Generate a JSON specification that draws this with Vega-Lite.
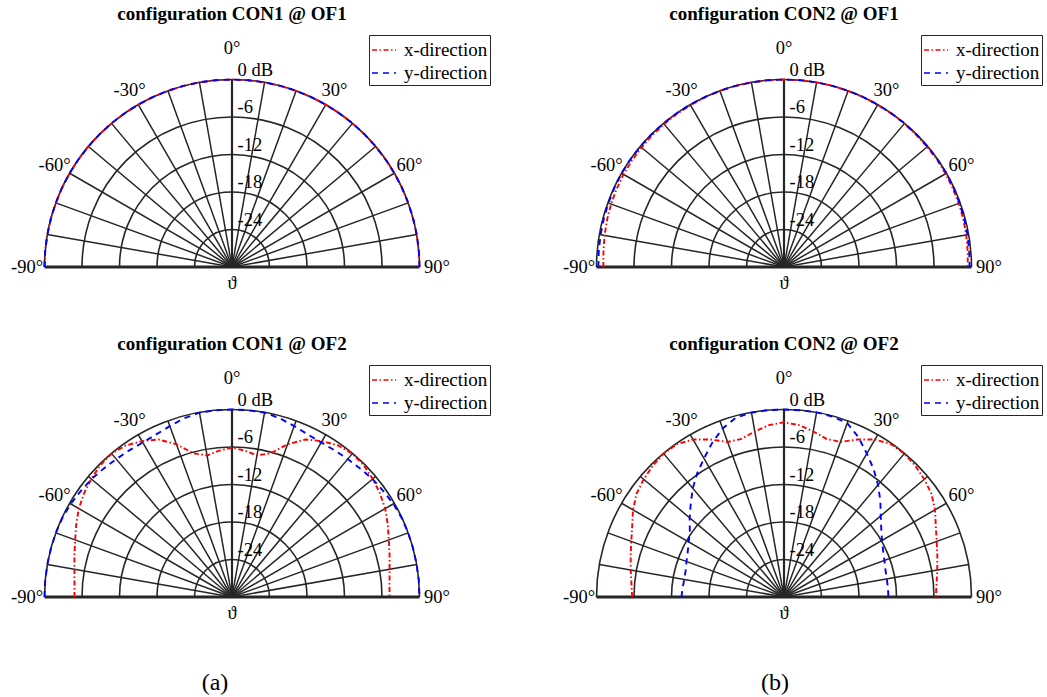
{
"$schema":"https://vega.github.io/schema/vega-lite/v6.json",
"padding":{"left":0,"top":5,"right":0,"bottom":0},
"background":"white",
"config":{"view":{"stroke":null},"font":"Liberation Serif",
 "text":{"font":"Liberation Serif","fontSize":18.5,"color":"black"},
 "title":{"font":"Liberation Serif","fontSize":19,"fontWeight":"bold","color":"black"},
 "legend":{"orient":"none","legendX":369,"legendY":5,"labelFont":"Liberation Serif","labelFontSize":19,"labelColor":"black","symbolType":"stroke","symbolSize":576,"symbolStrokeWidth":1.6,"strokeColor":"#262626","fillColor":"white","padding":2,"rowPadding":-1,"labelOffset":7}},
"datasets":{
"rings":[{"db":0,"lab":"0 dB"},{"db":-6,"lab":"-6"},{"db":-12,"lab":"-12"},{"db":-18,"lab":"-18"},{"db":-24,"lab":"-24"}],
"spokes":[{"a":-80},{"a":-70},{"a":-60},{"a":-50},{"a":-40},{"a":-30},{"a":-20},{"a":-10},{"a":0},{"a":10},{"a":20},{"a":30},{"a":40},{"a":50},{"a":60},{"a":70},{"a":80}],
"alabels":[{"a":-90,"lab":"-90°"},{"a":-60,"lab":"-60°"},{"a":-30,"lab":"-30°"},{"a":0,"lab":"0°"},{"a":30,"lab":"30°"},{"a":60,"lab":"60°"},{"a":90,"lab":"90°"}],
"curves":[
{"p":1,"a":-90,"x-direction":0,"y-direction":0},{"p":1,"a":-85,"x-direction":0,"y-direction":0},{"p":1,"a":-80,"x-direction":0,"y-direction":0},{"p":1,"a":-75,"x-direction":0,"y-direction":0},{"p":1,"a":-70,"x-direction":0,"y-direction":0},{"p":1,"a":-65,"x-direction":0,"y-direction":0},{"p":1,"a":-60,"x-direction":0,"y-direction":0},{"p":1,"a":-55,"x-direction":0,"y-direction":0},{"p":1,"a":-50,"x-direction":0,"y-direction":0},{"p":1,"a":-45,"x-direction":0,"y-direction":0},{"p":1,"a":-40,"x-direction":0,"y-direction":0},{"p":1,"a":-35,"x-direction":0,"y-direction":0},{"p":1,"a":-30,"x-direction":0,"y-direction":0},{"p":1,"a":-25,"x-direction":0,"y-direction":0},{"p":1,"a":-20,"x-direction":0,"y-direction":0},{"p":1,"a":-15,"x-direction":0,"y-direction":0},{"p":1,"a":-10,"x-direction":0,"y-direction":0},{"p":1,"a":-5,"x-direction":0,"y-direction":0},{"p":1,"a":0,"x-direction":0,"y-direction":0},{"p":1,"a":5,"x-direction":0,"y-direction":0},{"p":1,"a":10,"x-direction":0,"y-direction":0},{"p":1,"a":15,"x-direction":0,"y-direction":0},{"p":1,"a":20,"x-direction":0,"y-direction":0},{"p":1,"a":25,"x-direction":0,"y-direction":0},{"p":1,"a":30,"x-direction":0,"y-direction":0},{"p":1,"a":35,"x-direction":0,"y-direction":0},{"p":1,"a":40,"x-direction":0,"y-direction":0},{"p":1,"a":45,"x-direction":0,"y-direction":0},{"p":1,"a":50,"x-direction":0,"y-direction":0},{"p":1,"a":55,"x-direction":0,"y-direction":0},{"p":1,"a":60,"x-direction":0,"y-direction":0},{"p":1,"a":65,"x-direction":0,"y-direction":0},{"p":1,"a":70,"x-direction":0,"y-direction":0},{"p":1,"a":75,"x-direction":0,"y-direction":0},{"p":1,"a":80,"x-direction":0,"y-direction":0},{"p":1,"a":85,"x-direction":0,"y-direction":0},{"p":1,"a":90,"x-direction":0,"y-direction":0},
{"p":2,"a":-90,"x-direction":-1.1,"y-direction":-0.3},{"p":2,"a":-85,"x-direction":-1.0,"y-direction":-0.25},{"p":2,"a":-80,"x-direction":-0.85,"y-direction":-0.2},{"p":2,"a":-75,"x-direction":-0.7,"y-direction":-0.15},{"p":2,"a":-70,"x-direction":-0.55,"y-direction":-0.1},{"p":2,"a":-65,"x-direction":-0.45,"y-direction":-0.05},{"p":2,"a":-60,"x-direction":-0.35,"y-direction":0},{"p":2,"a":-55,"x-direction":-0.3,"y-direction":0},{"p":2,"a":-50,"x-direction":-0.25,"y-direction":0},{"p":2,"a":-45,"x-direction":-0.2,"y-direction":0},{"p":2,"a":-40,"x-direction":-0.15,"y-direction":0},{"p":2,"a":-35,"x-direction":-0.1,"y-direction":0},{"p":2,"a":-30,"x-direction":-0.1,"y-direction":0},{"p":2,"a":-25,"x-direction":-0.05,"y-direction":0},{"p":2,"a":-20,"x-direction":0,"y-direction":0},{"p":2,"a":-15,"x-direction":0,"y-direction":0},{"p":2,"a":-10,"x-direction":0,"y-direction":0},{"p":2,"a":-5,"x-direction":0,"y-direction":0},{"p":2,"a":0,"x-direction":0,"y-direction":0},{"p":2,"a":5,"x-direction":0,"y-direction":0},{"p":2,"a":10,"x-direction":0,"y-direction":0},{"p":2,"a":15,"x-direction":0,"y-direction":0},{"p":2,"a":20,"x-direction":0,"y-direction":0},{"p":2,"a":25,"x-direction":0,"y-direction":0},{"p":2,"a":30,"x-direction":-0.05,"y-direction":0},{"p":2,"a":35,"x-direction":-0.05,"y-direction":0},{"p":2,"a":40,"x-direction":-0.05,"y-direction":0},{"p":2,"a":45,"x-direction":-0.1,"y-direction":0},{"p":2,"a":50,"x-direction":-0.1,"y-direction":0},{"p":2,"a":55,"x-direction":-0.1,"y-direction":0},{"p":2,"a":60,"x-direction":-0.15,"y-direction":0},{"p":2,"a":65,"x-direction":-0.2,"y-direction":-0.05},{"p":2,"a":70,"x-direction":-0.25,"y-direction":-0.1},{"p":2,"a":75,"x-direction":-0.3,"y-direction":-0.15},{"p":2,"a":80,"x-direction":-0.4,"y-direction":-0.2},{"p":2,"a":85,"x-direction":-0.5,"y-direction":-0.25},{"p":2,"a":90,"x-direction":-0.6,"y-direction":-0.3},
{"p":3,"a":-90,"x-direction":-4.8,"y-direction":0},{"p":3,"a":-85,"x-direction":-4.7,"y-direction":0},{"p":3,"a":-80,"x-direction":-4.4,"y-direction":0},{"p":3,"a":-75,"x-direction":-3.9,"y-direction":0},{"p":3,"a":-70,"x-direction":-3.3,"y-direction":0},{"p":3,"a":-65,"x-direction":-2.5,"y-direction":-0.05},{"p":3,"a":-60,"x-direction":-1.7,"y-direction":-0.2},{"p":3,"a":-55,"x-direction":-1.1,"y-direction":-0.45},{"p":3,"a":-50,"x-direction":-0.6,"y-direction":-0.65},{"p":3,"a":-45,"x-direction":-0.2,"y-direction":-0.95},{"p":3,"a":-40,"x-direction":-0.05,"y-direction":-1.2},{"p":3,"a":-35,"x-direction":-0.4,"y-direction":-1.35},{"p":3,"a":-30,"x-direction":-1.2,"y-direction":-1.45},{"p":3,"a":-25,"x-direction":-2.2,"y-direction":-1.3},{"p":3,"a":-20,"x-direction":-4.0,"y-direction":-0.9},{"p":3,"a":-15,"x-direction":-6.2,"y-direction":-0.4},{"p":3,"a":-10,"x-direction":-7.0,"y-direction":-0.05},{"p":3,"a":-5,"x-direction":-6.5,"y-direction":0},{"p":3,"a":0,"x-direction":-6.1,"y-direction":0},{"p":3,"a":5,"x-direction":-6.5,"y-direction":0},{"p":3,"a":10,"x-direction":-7.0,"y-direction":-0.05},{"p":3,"a":15,"x-direction":-6.2,"y-direction":-0.4},{"p":3,"a":20,"x-direction":-4.0,"y-direction":-0.9},{"p":3,"a":25,"x-direction":-2.2,"y-direction":-1.3},{"p":3,"a":30,"x-direction":-1.2,"y-direction":-1.45},{"p":3,"a":35,"x-direction":-0.4,"y-direction":-1.35},{"p":3,"a":40,"x-direction":-0.05,"y-direction":-1.2},{"p":3,"a":45,"x-direction":-0.2,"y-direction":-0.95},{"p":3,"a":50,"x-direction":-0.6,"y-direction":-0.65},{"p":3,"a":55,"x-direction":-1.1,"y-direction":-0.45},{"p":3,"a":60,"x-direction":-1.7,"y-direction":-0.2},{"p":3,"a":65,"x-direction":-2.5,"y-direction":-0.05},{"p":3,"a":70,"x-direction":-3.3,"y-direction":0},{"p":3,"a":75,"x-direction":-3.9,"y-direction":0},{"p":3,"a":80,"x-direction":-4.4,"y-direction":0},{"p":3,"a":85,"x-direction":-4.7,"y-direction":0},{"p":3,"a":90,"x-direction":-4.8,"y-direction":0},
{"p":4,"a":-90,"x-direction":-5.7,"y-direction":-13.6},{"p":4,"a":-85,"x-direction":-5.5,"y-direction":-13.7},{"p":4,"a":-80,"x-direction":-5.1,"y-direction":-13.8},{"p":4,"a":-75,"x-direction":-4.6,"y-direction":-13.7},{"p":4,"a":-70,"x-direction":-4.0,"y-direction":-13.4},{"p":4,"a":-65,"x-direction":-3.2,"y-direction":-13.0},{"p":4,"a":-60,"x-direction":-2.1,"y-direction":-12.4},{"p":4,"a":-55,"x-direction":-1.2,"y-direction":-11.6},{"p":4,"a":-50,"x-direction":-0.7,"y-direction":-10.3},{"p":4,"a":-45,"x-direction":-0.3,"y-direction":-8.9},{"p":4,"a":-40,"x-direction":-0.05,"y-direction":-7.3},{"p":4,"a":-35,"x-direction":-0.15,"y-direction":-5.8},{"p":4,"a":-30,"x-direction":-0.9,"y-direction":-4.4},{"p":4,"a":-25,"x-direction":-2.2,"y-direction":-2.8},{"p":4,"a":-20,"x-direction":-3.6,"y-direction":-1.3},{"p":4,"a":-15,"x-direction":-3.8,"y-direction":-0.3},{"p":4,"a":-10,"x-direction":-3.1,"y-direction":-0.05},{"p":4,"a":-5,"x-direction":-2.4,"y-direction":0},{"p":4,"a":0,"x-direction":-2.05,"y-direction":0},{"p":4,"a":5,"x-direction":-2.4,"y-direction":0},{"p":4,"a":10,"x-direction":-3.1,"y-direction":0},{"p":4,"a":15,"x-direction":-3.8,"y-direction":-0.1},{"p":4,"a":20,"x-direction":-3.6,"y-direction":-0.4},{"p":4,"a":25,"x-direction":-2.2,"y-direction":-1.8},{"p":4,"a":30,"x-direction":-0.9,"y-direction":-3.5},{"p":4,"a":35,"x-direction":-0.15,"y-direction":-5.0},{"p":4,"a":40,"x-direction":-0.05,"y-direction":-6.6},{"p":4,"a":45,"x-direction":-0.3,"y-direction":-8.2},{"p":4,"a":50,"x-direction":-0.7,"y-direction":-9.8},{"p":4,"a":55,"x-direction":-1.2,"y-direction":-11.0},{"p":4,"a":60,"x-direction":-2.1,"y-direction":-11.9},{"p":4,"a":65,"x-direction":-3.2,"y-direction":-12.5},{"p":4,"a":70,"x-direction":-4.0,"y-direction":-12.9},{"p":4,"a":75,"x-direction":-4.6,"y-direction":-13.2},{"p":4,"a":80,"x-direction":-5.1,"y-direction":-13.3},{"p":4,"a":85,"x-direction":-5.5,"y-direction":-13.3},{"p":4,"a":90,"x-direction":-5.7,"y-direction":-13.3}
]},
"bounds":"flush",
"columns":2,
"spacing":{"row":50,"column":88},
"resolve":{"scale":{"color":"independent","strokeDash":"independent","x":"independent","y":"independent","theta":"independent","radius":"independent"}},
"concat":[
{"width":464,"height":280,"title":{"text":"configuration CON1 @ OF1","baseline":"alphabetic","offset":-9},
"layer":[
{"data":{"name":"rings"},"mark":{"type":"arc","filled":false,"stroke":"#262626","strokeWidth":1.6},
 "encoding":{"x":{"datum":0,"type":"quantitative","scale":{"domain":[-1.2373,1.2373],"nice":false,"zero":false},"axis":null},"y":{"datum":0,"type":"quantitative","scale":{"domain":[-0.2293,1.264],"nice":false,"zero":false},"axis":null},"theta":{"datum":-90,"type":"quantitative","scale":{"domain":[-90,90],"range":[-1.5707963,1.5707963]}},"theta2":{"datum":90},"radius":{"field":"db","type":"quantitative","scale":{"type":"linear","domain":[-30,0],"range":[0,187.5],"zero":false}},"radius2":{"field":"db"}}},
{"data":{"name":"spokes"},"mark":{"type":"arc","filled":false,"stroke":"#262626"},
 "encoding":{"x":{"datum":0,"type":"quantitative","scale":{"domain":[-1.2373,1.2373],"nice":false,"zero":false},"axis":null},"y":{"datum":0,"type":"quantitative","scale":{"domain":[-0.2293,1.264],"nice":false,"zero":false},"axis":null},"theta":{"field":"a","type":"quantitative","stack":null,"scale":{"domain":[-90,90],"range":[-1.5707963,1.5707963]}},"theta2":{"field":"a"},"radius":{"datum":0,"type":"quantitative","scale":{"type":"linear","domain":[-30,0],"range":[0,187.5],"zero":false}},"radius2":{"datum":-30},"strokeWidth":{"condition":{"test":"datum.a==0","value":2.2},"value":1.5}}},
{"data":{"values":[{"t":"ϑ"}]},"mark":{"type":"rule","color":"#262626","strokeWidth":2.8},
 "encoding":{"x":{"datum":-1,"type":"quantitative","scale":{"domain":[-1.2373,1.2373],"nice":false,"zero":false},"axis":null},"x2":{"datum":1},"y":{"datum":0,"type":"quantitative","scale":{"domain":[-0.2293,1.264],"nice":false,"zero":false},"axis":null}}},
{"data":{"name":"curves"},"transform":[{"filter":"datum.p==1"},{"fold":["x-direction","y-direction"],"as":["dir","db"]},{"calculate":"(datum.db+30)/30","as":"r"},{"calculate":"datum.r*sin(datum.a*PI/180)","as":"px"},{"calculate":"datum.r*cos(datum.a*PI/180)","as":"py"}],
 "mark":{"type":"line","strokeWidth":1.9},
 "encoding":{"x":{"field":"px","type":"quantitative","scale":{"domain":[-1.2373,1.2373],"nice":false,"zero":false},"axis":null},"y":{"field":"py","type":"quantitative","scale":{"domain":[-0.2293,1.264],"nice":false,"zero":false},"axis":null},"order":{"field":"a","type":"quantitative"},"color":{"field":"dir","type":"nominal","scale":{"domain":["x-direction","y-direction"],"range":["#ff0000","#0000ff"]},"legend":{"title":null}},"strokeDash":{"field":"dir","type":"nominal","scale":{"domain":["x-direction","y-direction"],"range":[[5,2.5,1.5,2.5],[6,5]]},"legend":{"title":null}}}},
{"data":{"name":"rings"},"transform":[{"calculate":"(datum.db+30)/30","as":"py"}],"mark":{"type":"text","align":"left","baseline":"middle","dx":5.5,"dy":-10},
 "encoding":{"x":{"datum":0,"type":"quantitative","scale":{"domain":[-1.2373,1.2373],"nice":false,"zero":false},"axis":null},"y":{"field":"py","type":"quantitative","scale":{"domain":[-0.2293,1.264],"nice":false,"zero":false},"axis":null},"text":{"field":"lab"}}},
{"data":{"name":"alabels"},"transform":[{"calculate":"datum.a==0?1.17:1.093","as":"rr"},{"calculate":"datum.rr*sin(datum.a*PI/180)","as":"px"},{"calculate":"datum.rr*cos(datum.a*PI/180)","as":"py"}],"mark":{"type":"text","align":"center","baseline":"middle"},
 "encoding":{"x":{"field":"px","type":"quantitative","scale":{"domain":[-1.2373,1.2373],"nice":false,"zero":false},"axis":null},"y":{"field":"py","type":"quantitative","scale":{"domain":[-0.2293,1.264],"nice":false,"zero":false},"axis":null},"text":{"field":"lab"}}},
{"data":{"values":[{"t":"ϑ"}]},"mark":{"type":"text","baseline":"middle","dy":16},
 "encoding":{"x":{"datum":0,"type":"quantitative","scale":{"domain":[-1.2373,1.2373],"nice":false,"zero":false},"axis":null},"y":{"datum":0,"type":"quantitative","scale":{"domain":[-0.2293,1.264],"nice":false,"zero":false},"axis":null},"text":{"field":"t"}}}
]},
{"width":464,"height":280,"title":{"text":"configuration CON2 @ OF1","baseline":"alphabetic","offset":-9},
"layer":[
{"data":{"name":"rings"},"mark":{"type":"arc","filled":false,"stroke":"#262626","strokeWidth":1.6},
 "encoding":{"x":{"datum":0,"type":"quantitative","scale":{"domain":[-1.2373,1.2373],"nice":false,"zero":false},"axis":null},"y":{"datum":0,"type":"quantitative","scale":{"domain":[-0.2293,1.264],"nice":false,"zero":false},"axis":null},"theta":{"datum":-90,"type":"quantitative","scale":{"domain":[-90,90],"range":[-1.5707963,1.5707963]}},"theta2":{"datum":90},"radius":{"field":"db","type":"quantitative","scale":{"type":"linear","domain":[-30,0],"range":[0,187.5],"zero":false}},"radius2":{"field":"db"}}},
{"data":{"name":"spokes"},"mark":{"type":"arc","filled":false,"stroke":"#262626"},
 "encoding":{"x":{"datum":0,"type":"quantitative","scale":{"domain":[-1.2373,1.2373],"nice":false,"zero":false},"axis":null},"y":{"datum":0,"type":"quantitative","scale":{"domain":[-0.2293,1.264],"nice":false,"zero":false},"axis":null},"theta":{"field":"a","type":"quantitative","stack":null,"scale":{"domain":[-90,90],"range":[-1.5707963,1.5707963]}},"theta2":{"field":"a"},"radius":{"datum":0,"type":"quantitative","scale":{"type":"linear","domain":[-30,0],"range":[0,187.5],"zero":false}},"radius2":{"datum":-30},"strokeWidth":{"condition":{"test":"datum.a==0","value":2.2},"value":1.5}}},
{"data":{"values":[{"t":"ϑ"}]},"mark":{"type":"rule","color":"#262626","strokeWidth":2.8},
 "encoding":{"x":{"datum":-1,"type":"quantitative","scale":{"domain":[-1.2373,1.2373],"nice":false,"zero":false},"axis":null},"x2":{"datum":1},"y":{"datum":0,"type":"quantitative","scale":{"domain":[-0.2293,1.264],"nice":false,"zero":false},"axis":null}}},
{"data":{"name":"curves"},"transform":[{"filter":"datum.p==2"},{"fold":["x-direction","y-direction"],"as":["dir","db"]},{"calculate":"(datum.db+30)/30","as":"r"},{"calculate":"datum.r*sin(datum.a*PI/180)","as":"px"},{"calculate":"datum.r*cos(datum.a*PI/180)","as":"py"}],
 "mark":{"type":"line","strokeWidth":1.9},
 "encoding":{"x":{"field":"px","type":"quantitative","scale":{"domain":[-1.2373,1.2373],"nice":false,"zero":false},"axis":null},"y":{"field":"py","type":"quantitative","scale":{"domain":[-0.2293,1.264],"nice":false,"zero":false},"axis":null},"order":{"field":"a","type":"quantitative"},"color":{"field":"dir","type":"nominal","scale":{"domain":["x-direction","y-direction"],"range":["#ff0000","#0000ff"]},"legend":{"title":null}},"strokeDash":{"field":"dir","type":"nominal","scale":{"domain":["x-direction","y-direction"],"range":[[5,2.5,1.5,2.5],[6,5]]},"legend":{"title":null}}}},
{"data":{"name":"rings"},"transform":[{"calculate":"(datum.db+30)/30","as":"py"}],"mark":{"type":"text","align":"left","baseline":"middle","dx":5.5,"dy":-10},
 "encoding":{"x":{"datum":0,"type":"quantitative","scale":{"domain":[-1.2373,1.2373],"nice":false,"zero":false},"axis":null},"y":{"field":"py","type":"quantitative","scale":{"domain":[-0.2293,1.264],"nice":false,"zero":false},"axis":null},"text":{"field":"lab"}}},
{"data":{"name":"alabels"},"transform":[{"calculate":"datum.a==0?1.17:1.093","as":"rr"},{"calculate":"datum.rr*sin(datum.a*PI/180)","as":"px"},{"calculate":"datum.rr*cos(datum.a*PI/180)","as":"py"}],"mark":{"type":"text","align":"center","baseline":"middle"},
 "encoding":{"x":{"field":"px","type":"quantitative","scale":{"domain":[-1.2373,1.2373],"nice":false,"zero":false},"axis":null},"y":{"field":"py","type":"quantitative","scale":{"domain":[-0.2293,1.264],"nice":false,"zero":false},"axis":null},"text":{"field":"lab"}}},
{"data":{"values":[{"t":"ϑ"}]},"mark":{"type":"text","baseline":"middle","dy":16},
 "encoding":{"x":{"datum":0,"type":"quantitative","scale":{"domain":[-1.2373,1.2373],"nice":false,"zero":false},"axis":null},"y":{"datum":0,"type":"quantitative","scale":{"domain":[-0.2293,1.264],"nice":false,"zero":false},"axis":null},"text":{"field":"t"}}}
]},
{"width":464,"height":280,"title":{"text":"configuration CON1 @ OF2","baseline":"alphabetic","offset":-9},
"layer":[
{"data":{"name":"rings"},"mark":{"type":"arc","filled":false,"stroke":"#262626","strokeWidth":1.6},
 "encoding":{"x":{"datum":0,"type":"quantitative","scale":{"domain":[-1.2373,1.2373],"nice":false,"zero":false},"axis":null},"y":{"datum":0,"type":"quantitative","scale":{"domain":[-0.2293,1.264],"nice":false,"zero":false},"axis":null},"theta":{"datum":-90,"type":"quantitative","scale":{"domain":[-90,90],"range":[-1.5707963,1.5707963]}},"theta2":{"datum":90},"radius":{"field":"db","type":"quantitative","scale":{"type":"linear","domain":[-30,0],"range":[0,187.5],"zero":false}},"radius2":{"field":"db"}}},
{"data":{"name":"spokes"},"mark":{"type":"arc","filled":false,"stroke":"#262626"},
 "encoding":{"x":{"datum":0,"type":"quantitative","scale":{"domain":[-1.2373,1.2373],"nice":false,"zero":false},"axis":null},"y":{"datum":0,"type":"quantitative","scale":{"domain":[-0.2293,1.264],"nice":false,"zero":false},"axis":null},"theta":{"field":"a","type":"quantitative","stack":null,"scale":{"domain":[-90,90],"range":[-1.5707963,1.5707963]}},"theta2":{"field":"a"},"radius":{"datum":0,"type":"quantitative","scale":{"type":"linear","domain":[-30,0],"range":[0,187.5],"zero":false}},"radius2":{"datum":-30},"strokeWidth":{"condition":{"test":"datum.a==0","value":2.2},"value":1.5}}},
{"data":{"values":[{"t":"ϑ"}]},"mark":{"type":"rule","color":"#262626","strokeWidth":2.8},
 "encoding":{"x":{"datum":-1,"type":"quantitative","scale":{"domain":[-1.2373,1.2373],"nice":false,"zero":false},"axis":null},"x2":{"datum":1},"y":{"datum":0,"type":"quantitative","scale":{"domain":[-0.2293,1.264],"nice":false,"zero":false},"axis":null}}},
{"data":{"name":"curves"},"transform":[{"filter":"datum.p==3"},{"fold":["x-direction","y-direction"],"as":["dir","db"]},{"calculate":"(datum.db+30)/30","as":"r"},{"calculate":"datum.r*sin(datum.a*PI/180)","as":"px"},{"calculate":"datum.r*cos(datum.a*PI/180)","as":"py"}],
 "mark":{"type":"line","strokeWidth":1.9},
 "encoding":{"x":{"field":"px","type":"quantitative","scale":{"domain":[-1.2373,1.2373],"nice":false,"zero":false},"axis":null},"y":{"field":"py","type":"quantitative","scale":{"domain":[-0.2293,1.264],"nice":false,"zero":false},"axis":null},"order":{"field":"a","type":"quantitative"},"color":{"field":"dir","type":"nominal","scale":{"domain":["x-direction","y-direction"],"range":["#ff0000","#0000ff"]},"legend":{"title":null}},"strokeDash":{"field":"dir","type":"nominal","scale":{"domain":["x-direction","y-direction"],"range":[[5,2.5,1.5,2.5],[6,5]]},"legend":{"title":null}}}},
{"data":{"name":"rings"},"transform":[{"calculate":"(datum.db+30)/30","as":"py"}],"mark":{"type":"text","align":"left","baseline":"middle","dx":5.5,"dy":-10},
 "encoding":{"x":{"datum":0,"type":"quantitative","scale":{"domain":[-1.2373,1.2373],"nice":false,"zero":false},"axis":null},"y":{"field":"py","type":"quantitative","scale":{"domain":[-0.2293,1.264],"nice":false,"zero":false},"axis":null},"text":{"field":"lab"}}},
{"data":{"name":"alabels"},"transform":[{"calculate":"datum.a==0?1.17:1.093","as":"rr"},{"calculate":"datum.rr*sin(datum.a*PI/180)","as":"px"},{"calculate":"datum.rr*cos(datum.a*PI/180)","as":"py"}],"mark":{"type":"text","align":"center","baseline":"middle"},
 "encoding":{"x":{"field":"px","type":"quantitative","scale":{"domain":[-1.2373,1.2373],"nice":false,"zero":false},"axis":null},"y":{"field":"py","type":"quantitative","scale":{"domain":[-0.2293,1.264],"nice":false,"zero":false},"axis":null},"text":{"field":"lab"}}},
{"data":{"values":[{"t":"ϑ"}]},"mark":{"type":"text","baseline":"middle","dy":16},
 "encoding":{"x":{"datum":0,"type":"quantitative","scale":{"domain":[-1.2373,1.2373],"nice":false,"zero":false},"axis":null},"y":{"datum":0,"type":"quantitative","scale":{"domain":[-0.2293,1.264],"nice":false,"zero":false},"axis":null},"text":{"field":"t"}}}
]},
{"width":464,"height":280,"title":{"text":"configuration CON2 @ OF2","baseline":"alphabetic","offset":-9},
"layer":[
{"data":{"name":"rings"},"mark":{"type":"arc","filled":false,"stroke":"#262626","strokeWidth":1.6},
 "encoding":{"x":{"datum":0,"type":"quantitative","scale":{"domain":[-1.2373,1.2373],"nice":false,"zero":false},"axis":null},"y":{"datum":0,"type":"quantitative","scale":{"domain":[-0.2293,1.264],"nice":false,"zero":false},"axis":null},"theta":{"datum":-90,"type":"quantitative","scale":{"domain":[-90,90],"range":[-1.5707963,1.5707963]}},"theta2":{"datum":90},"radius":{"field":"db","type":"quantitative","scale":{"type":"linear","domain":[-30,0],"range":[0,187.5],"zero":false}},"radius2":{"field":"db"}}},
{"data":{"name":"spokes"},"mark":{"type":"arc","filled":false,"stroke":"#262626"},
 "encoding":{"x":{"datum":0,"type":"quantitative","scale":{"domain":[-1.2373,1.2373],"nice":false,"zero":false},"axis":null},"y":{"datum":0,"type":"quantitative","scale":{"domain":[-0.2293,1.264],"nice":false,"zero":false},"axis":null},"theta":{"field":"a","type":"quantitative","stack":null,"scale":{"domain":[-90,90],"range":[-1.5707963,1.5707963]}},"theta2":{"field":"a"},"radius":{"datum":0,"type":"quantitative","scale":{"type":"linear","domain":[-30,0],"range":[0,187.5],"zero":false}},"radius2":{"datum":-30},"strokeWidth":{"condition":{"test":"datum.a==0","value":2.2},"value":1.5}}},
{"data":{"values":[{"t":"ϑ"}]},"mark":{"type":"rule","color":"#262626","strokeWidth":2.8},
 "encoding":{"x":{"datum":-1,"type":"quantitative","scale":{"domain":[-1.2373,1.2373],"nice":false,"zero":false},"axis":null},"x2":{"datum":1},"y":{"datum":0,"type":"quantitative","scale":{"domain":[-0.2293,1.264],"nice":false,"zero":false},"axis":null}}},
{"data":{"name":"curves"},"transform":[{"filter":"datum.p==4"},{"fold":["x-direction","y-direction"],"as":["dir","db"]},{"calculate":"(datum.db+30)/30","as":"r"},{"calculate":"datum.r*sin(datum.a*PI/180)","as":"px"},{"calculate":"datum.r*cos(datum.a*PI/180)","as":"py"}],
 "mark":{"type":"line","strokeWidth":1.9},
 "encoding":{"x":{"field":"px","type":"quantitative","scale":{"domain":[-1.2373,1.2373],"nice":false,"zero":false},"axis":null},"y":{"field":"py","type":"quantitative","scale":{"domain":[-0.2293,1.264],"nice":false,"zero":false},"axis":null},"order":{"field":"a","type":"quantitative"},"color":{"field":"dir","type":"nominal","scale":{"domain":["x-direction","y-direction"],"range":["#ff0000","#0000ff"]},"legend":{"title":null}},"strokeDash":{"field":"dir","type":"nominal","scale":{"domain":["x-direction","y-direction"],"range":[[5,2.5,1.5,2.5],[6,5]]},"legend":{"title":null}}}},
{"data":{"name":"rings"},"transform":[{"calculate":"(datum.db+30)/30","as":"py"}],"mark":{"type":"text","align":"left","baseline":"middle","dx":5.5,"dy":-10},
 "encoding":{"x":{"datum":0,"type":"quantitative","scale":{"domain":[-1.2373,1.2373],"nice":false,"zero":false},"axis":null},"y":{"field":"py","type":"quantitative","scale":{"domain":[-0.2293,1.264],"nice":false,"zero":false},"axis":null},"text":{"field":"lab"}}},
{"data":{"name":"alabels"},"transform":[{"calculate":"datum.a==0?1.17:1.093","as":"rr"},{"calculate":"datum.rr*sin(datum.a*PI/180)","as":"px"},{"calculate":"datum.rr*cos(datum.a*PI/180)","as":"py"}],"mark":{"type":"text","align":"center","baseline":"middle"},
 "encoding":{"x":{"field":"px","type":"quantitative","scale":{"domain":[-1.2373,1.2373],"nice":false,"zero":false},"axis":null},"y":{"field":"py","type":"quantitative","scale":{"domain":[-0.2293,1.264],"nice":false,"zero":false},"axis":null},"text":{"field":"lab"}}},
{"data":{"values":[{"t":"ϑ"}]},"mark":{"type":"text","baseline":"middle","dy":16},
 "encoding":{"x":{"datum":0,"type":"quantitative","scale":{"domain":[-1.2373,1.2373],"nice":false,"zero":false},"axis":null},"y":{"datum":0,"type":"quantitative","scale":{"domain":[-0.2293,1.264],"nice":false,"zero":false},"axis":null},"text":{"field":"t"}}}
]},
{"width":464,"height":2,"data":{"values":[{"t":"(a)"}]},"mark":{"type":"text","fontSize":24,"dx":-17,"dy":-8,"baseline":"middle"},"encoding":{"text":{"field":"t"}}},
{"width":464,"height":2,"data":{"values":[{"t":"(b)"}]},"mark":{"type":"text","fontSize":24,"dx":-9,"dy":-8,"baseline":"middle"},"encoding":{"text":{"field":"t"}}}
]
}
